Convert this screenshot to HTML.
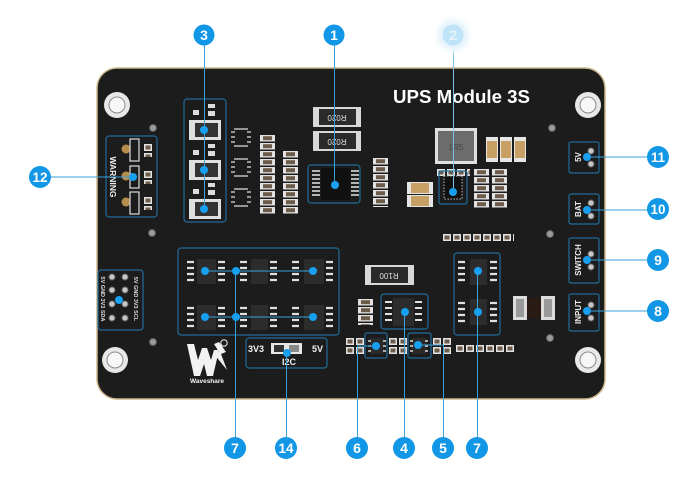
<!DOCTYPE html>
<html><head><meta charset="utf-8">
<style>
html,body{margin:0;padding:0;background:#fff;width:700px;height:480px;overflow:hidden}
svg{display:block}
</style></head>
<body>
<svg width="700" height="480" viewBox="0 0 700 480" xmlns="http://www.w3.org/2000/svg" font-family="'Liberation Sans', sans-serif">
<defs>
<pattern id="res" x="0" y="0" width="17" height="8" patternUnits="userSpaceOnUse">
<rect x="1" y="1" width="15" height="6.5" fill="#e2e2e2"/><rect x="4" y="2.2" width="9" height="4" fill="#6e5c4a"/>
</pattern>
<pattern id="resh" x="0" y="0" width="10" height="9" patternUnits="userSpaceOnUse">
<rect x="1" y="1" width="8" height="7" fill="#e2e2e2"/><rect x="2.5" y="2.5" width="5" height="4" fill="#6e5c4a"/>
</pattern>
<linearGradient id="fade" x1="0" x2="1" y1="0" y2="0">
<stop offset="0" stop-color="#3aa0d8" stop-opacity="0"/><stop offset="0.6" stop-color="#3aa0d8" stop-opacity="0.6"/><stop offset="1" stop-color="#3aa0d8"/>
</linearGradient>
<radialGradient id="glow"><stop offset="0" stop-color="#d6eefb"/><stop offset="0.6" stop-color="#e8f5fc"/><stop offset="1" stop-color="#ffffff" stop-opacity="0"/></radialGradient>
</defs>

<!-- board -->
<rect x="97" y="68" width="508" height="331" rx="20" fill="#1c1c1c" stroke="#cdb98c" stroke-width="1.5"/>

<!-- mounting holes -->
<g>
<circle cx="117" cy="105" r="13" fill="#e8e8e8"/><circle cx="117" cy="105" r="8" fill="#f7f7f7" stroke="#8a8a8a"/>
<circle cx="588" cy="105" r="13" fill="#e8e8e8"/><circle cx="588" cy="105" r="8" fill="#f7f7f7" stroke="#8a8a8a"/>
<circle cx="115" cy="360" r="13" fill="#e8e8e8"/><circle cx="115" cy="360" r="8" fill="#f7f7f7" stroke="#8a8a8a"/>
<circle cx="588" cy="360" r="13" fill="#e8e8e8"/><circle cx="588" cy="360" r="8" fill="#f7f7f7" stroke="#8a8a8a"/>
</g>

<!-- vias -->
<g fill="#9a9a9a" stroke="#5a5a5a">
<circle cx="153" cy="128" r="3.5"/><circle cx="152" cy="233" r="3.5"/><circle cx="153" cy="342" r="3.5"/>
<circle cx="552" cy="128" r="3.5"/><circle cx="550" cy="234" r="3.5"/><circle cx="550" cy="338" r="3.5"/>
</g>

<!-- title -->
<text x="393" y="103" font-size="18" font-weight="bold" fill="#fff" textLength="137" lengthAdjust="spacingAndGlyphs">UPS Module 3S</text>

<!-- R020 resistors -->
<g>
<rect x="313" y="107" width="48" height="20" fill="#d8d8d8"/><rect x="319" y="109" width="37" height="16" fill="#2a2a2a"/>
<text x="337" y="121" font-size="8" fill="#ddd" text-anchor="middle" transform="rotate(180 337 118)">R020</text>
<rect x="313" y="131" width="48" height="20" fill="#d8d8d8"/><rect x="319" y="133" width="37" height="16" fill="#2a2a2a"/>
<text x="337" y="145" font-size="8" fill="#ddd" text-anchor="middle" transform="rotate(180 337 142)">R020</text>
</g>

<!-- inductor -->
<rect x="435" y="128" width="42" height="36" fill="#e0e0e0"/>
<rect x="438" y="131" width="36" height="30" fill="#6c6c6c"/>
<text x="456" y="150" font-size="8" fill="#444" text-anchor="middle">1R5</text>
<!-- tan caps -->
<g>
<rect x="486" y="137" width="12" height="25" fill="#e6e6e6"/><rect x="487" y="141" width="10" height="17" fill="#c9a063"/>
<rect x="500" y="137" width="12" height="25" fill="#e6e6e6"/><rect x="501" y="141" width="10" height="17" fill="#c9a063"/>
<rect x="514" y="137" width="12" height="25" fill="#e6e6e6"/><rect x="515" y="141" width="10" height="17" fill="#c9a063"/>
<rect x="407" y="182" width="26" height="12" fill="#e6e6e6"/><rect x="411" y="183" width="18" height="10" fill="#c9a063"/>
<rect x="407" y="195" width="26" height="12" fill="#e6e6e6"/><rect x="411" y="196" width="18" height="10" fill="#c9a063"/>
</g>

<!-- resistor columns -->
<g transform="translate(259,134)"><rect width="17" height="80" fill="url(#res)"/></g>
<g transform="translate(282,150)"><rect width="17" height="64" fill="url(#res)"/></g>
<g transform="translate(372,157)"><rect width="17" height="50" fill="url(#res)"/></g>
<g transform="translate(473,168)"><rect width="17" height="40" fill="url(#res)"/></g>
<g transform="translate(491,168)"><rect width="17" height="40" fill="url(#res)"/></g>
<g transform="translate(436,168)"><rect width="34" height="9" fill="url(#resh)"/></g>

<!-- SOT outlines -->
<g fill="none" stroke="#e0e0e0" stroke-width="1.3">
<path d="M234 129 h14 M234 146 h14 M231 132 h4 M231 137 h4 M231 142 h4 M247 132 h4 M247 137 h4 M247 142 h4"/>
<path d="M234 159 h14 M234 176 h14 M231 162 h4 M231 167 h4 M231 172 h4 M247 162 h4 M247 167 h4 M247 172 h4"/>
<path d="M234 189 h14 M234 206 h14 M231 192 h4 M231 197 h4 M231 202 h4 M247 192 h4 M247 197 h4 M247 202 h4"/>
</g>

<!-- box 3 components -->
<g>
<rect x="189" y="120" width="32" height="20" fill="#e0e0e0"/><rect x="195" y="123" width="23" height="14" fill="#333"/>
<rect x="189" y="160" width="32" height="20" fill="#e0e0e0"/><rect x="195" y="163" width="23" height="14" fill="#333"/>
<rect x="189" y="199" width="32" height="20" fill="#e0e0e0"/><rect x="195" y="202" width="23" height="14" fill="#333"/>
<g fill="#dcdcdc">
<rect x="193" y="110" width="6" height="5"/><rect x="208" y="104" width="7" height="4"/><rect x="208" y="111" width="7" height="5"/>
<rect x="193" y="150" width="6" height="5"/><rect x="208" y="144" width="7" height="4"/><rect x="208" y="151" width="7" height="5"/>
<rect x="193" y="189" width="6" height="5"/><rect x="208" y="183" width="7" height="4"/><rect x="208" y="190" width="7" height="5"/>
</g>
</g>

<!-- chip in box 1 -->
<rect x="321" y="168" width="29" height="32" fill="#111"/>
<g stroke="#e6e6e6" stroke-width="1.5">
<path d="M312 171h8M312 175h8M312 179h8M312 183h8M312 187h8M312 191h8M312 195h8"/>
<path d="M351 171h8M351 175h8M351 179h8M351 183h8M351 187h8M351 191h8M351 195h8"/>
</g>
<!-- chip in box 2 -->
<rect x="444" y="176" width="18" height="23" fill="#111" stroke="#bbb" stroke-dasharray="1.5 1.5"/>

<!-- WARNING box -->
<g>
<circle cx="126" cy="149" r="4.5" fill="#b58e4e"/><circle cx="126" cy="176" r="4.5" fill="#b58e4e"/><circle cx="126" cy="202" r="4.5" fill="#b58e4e"/>
<rect x="130" y="139" width="9" height="22" fill="none" stroke="#ddd" stroke-width="1.2"/>
<rect x="130" y="166" width="9" height="22" fill="none" stroke="#ddd" stroke-width="1.2"/>
<rect x="130" y="192" width="9" height="22" fill="none" stroke="#ddd" stroke-width="1.2"/>
<g transform="translate(143,143)"><rect width="10" height="14" fill="url(#resh)"/></g>
<g transform="translate(143,170)"><rect width="10" height="14" fill="url(#resh)"/></g>
<g transform="translate(143,196)"><rect width="10" height="14" fill="url(#resh)"/></g>
<text x="113" y="177" font-size="8.5" font-weight="bold" fill="#eee" text-anchor="middle" transform="rotate(90 113 177)" dy="3">WARNING</text>
</g>

<!-- header left -->
<g>
<g fill="#c8c8c8" stroke="#666">
<circle cx="112" cy="277" r="3"/><circle cx="112" cy="290" r="3"/><circle cx="112" cy="304" r="3"/><circle cx="112" cy="318" r="3"/>
<circle cx="125" cy="277" r="3"/><circle cx="125" cy="290" r="3"/><circle cx="125" cy="304" r="3"/><circle cx="125" cy="318" r="3"/>
</g>
<text x="103" y="299" font-size="5.5" font-weight="bold" fill="#ddd" text-anchor="middle" transform="rotate(90 103 299)" dy="2">5V GND 3V3 SDA</text>
<text x="136" y="299" font-size="5.5" font-weight="bold" fill="#ddd" text-anchor="middle" transform="rotate(90 136 299)" dy="2">5V GND 3V3 SCL</text>
</g>

<!-- 7L chips -->
<g>
<g fill="#2c2c2c">
<rect x="197" y="259" width="19" height="25"/><rect x="251" y="259" width="17" height="25"/><rect x="304" y="259" width="20" height="25"/>
<rect x="197" y="305" width="19" height="25"/><rect x="251" y="305" width="17" height="25"/><rect x="304" y="305" width="20" height="25"/>
</g>
<g stroke="#e0e0e0" stroke-width="2.2">
<path d="M187 262h7M187 268h7M187 274h7M187 280h7M218 262h7M218 268h7M218 274h7M218 280h7"/>
<path d="M240 262h7M240 268h7M240 274h7M240 280h7M270 262h7M270 268h7M270 274h7M270 280h7"/>
<path d="M292 262h7M292 268h7M292 274h7M292 280h7M326 262h7M326 268h7M326 274h7M326 280h7"/>
<path d="M187 308h7M187 314h7M187 320h7M187 326h7M218 308h7M218 314h7M218 320h7M218 326h7"/>
<path d="M240 308h7M240 314h7M240 320h7M240 326h7M270 308h7M270 314h7M270 320h7M270 326h7"/>
<path d="M292 308h7M292 314h7M292 320h7M292 326h7M326 308h7M326 314h7M326 320h7M326 326h7"/>
</g>
</g>

<!-- Waveshare logo -->
<g fill="#f2f2f2">
<polygon points="187,344 194,344 198,360 202,348 207,348 211,360 214,350 219,350 213,376 207,376 204,364 200,376 194,376"/>
<polygon points="219,342 226,352 221,354 227,370 214,354 219,352 214,344"/>
<circle cx="224" cy="343" r="3.2" fill="none" stroke="#f2f2f2" stroke-width="1"/>
<text x="207" y="383" font-size="6.5" font-weight="bold" text-anchor="middle">Waveshare</text>
</g>

<!-- I2C switch -->
<g>
<text x="248" y="352" font-size="9" font-weight="bold" fill="#f0f0f0">3V3</text>
<rect x="271" y="343" width="31" height="11" fill="#e6e6e6"/><rect x="274" y="345" width="10" height="7" fill="#333"/><rect x="289" y="345" width="10" height="7" fill="#888"/>
<text x="312" y="352" font-size="9" font-weight="bold" fill="#f0f0f0">5V</text>
<text x="289" y="365" font-size="9" font-weight="bold" fill="#f0f0f0" text-anchor="middle">I2C</text>
</g>

<!-- R100 -->
<rect x="365" y="265" width="49" height="20" fill="#d8d8d8"/><rect x="371" y="267" width="37" height="16" fill="#2a2a2a"/>
<text x="389" y="279" font-size="8" fill="#ddd" text-anchor="middle" transform="rotate(180 389 276)">R100</text>

<!-- black comp with pads -->
<rect x="513" y="296" width="14" height="24" fill="#dcdcdc"/><rect x="516" y="299" width="8" height="18" fill="#999"/>
<rect x="527" y="298" width="14" height="20" fill="#2a1a14"/>
<rect x="541" y="296" width="14" height="24" fill="#dcdcdc"/><rect x="544" y="299" width="8" height="18" fill="#999"/>

<!-- right area small parts -->
<g transform="translate(442,233)"><rect width="72" height="9" fill="url(#resh)"/></g>
<g transform="translate(455,344)"><rect width="60" height="9" fill="url(#resh)"/></g>
<g transform="translate(357,298)"><rect width="17" height="27" fill="url(#res)"/></g>
<g transform="translate(345,337)"><rect width="20" height="18" fill="url(#resh)"/></g>
<g transform="translate(388,337)"><rect width="20" height="18" fill="url(#resh)"/></g>
<g transform="translate(432,337)"><rect width="20" height="18" fill="url(#resh)"/></g>

<!-- 7R chips -->
<g fill="#2c2c2c"><rect x="470" y="259" width="17" height="26"/><rect x="470" y="299" width="17" height="26"/></g>
<g stroke="#e0e0e0" stroke-width="2.2">
<path d="M458 262h7M458 268h7M458 274h7M458 280h7M490 262h7M490 268h7M490 274h7M490 280h7"/>
<path d="M458 303h7M458 309h7M458 315h7M458 321h7M490 303h7M490 309h7M490 315h7M490 321h7"/>
</g>
<!-- box 4 chip -->
<rect x="393" y="298" width="21" height="28" fill="#2c2c2c"/>
<g stroke="#e0e0e0" stroke-width="2"><path d="M385 302h7M385 308h7M385 314h7M385 320h7M415 302h7M415 308h7M415 314h7M415 320h7"/></g>
<!-- box 6 / 5 chips -->
<rect x="370" y="338" width="14" height="16" fill="#2a2a2a"/>
<g stroke="#ddd" stroke-width="1.5"><path d="M368 341h3M368 346h3M368 351h3M383 341h3M383 346h3M383 351h3"/></g>
<rect x="412" y="338" width="14" height="16" fill="#2a2a2a"/>
<g stroke="#ddd" stroke-width="1.5"><path d="M410 341h3M410 346h3M410 351h3M425 341h3M425 346h3M425 351h3"/></g>

<!-- right connectors -->
<g font-size="8" font-weight="bold" fill="#eee" text-anchor="middle">
<text x="578" y="157" transform="rotate(-90 578 157)" dy="3">5V</text>
<text x="578" y="209" transform="rotate(-90 578 209)" dy="3">BAT</text>
<text x="578" y="260" transform="rotate(-90 578 260)" dy="3">SWITCH</text>
<text x="578" y="312" transform="rotate(-90 578 312)" dy="3">INPUT</text>
</g>
<g fill="#c8c8c8" stroke="#666">
<circle cx="591" cy="151" r="3"/><circle cx="591" cy="164" r="3"/>
<circle cx="591" cy="203" r="3"/><circle cx="591" cy="216" r="3"/>
<circle cx="591" cy="254" r="3"/><circle cx="591" cy="267" r="3"/>
<circle cx="591" cy="305" r="3"/><circle cx="591" cy="318" r="3"/>
</g>

<!-- highlight boxes -->
<g fill="none" stroke="#1f6d9a" stroke-width="1.2">
<rect x="184" y="99" width="42" height="123" rx="3"/>
<rect x="308" y="165" width="52" height="38" rx="3"/>
<rect x="439" y="171" width="28" height="33" rx="2"/>
<rect x="106" y="136" width="51" height="81" rx="3"/>
<rect x="98" y="270" width="45" height="60" rx="3"/>
<rect x="178" y="248" width="161" height="87" rx="3"/>
<rect x="246" y="338" width="81" height="30" rx="3"/>
<rect x="381" y="294" width="47" height="35" rx="3"/>
<rect x="365" y="333" width="22" height="25" rx="2"/>
<rect x="408" y="333" width="23" height="25" rx="2"/>
<rect x="454" y="253" width="46" height="82" rx="3"/>
<rect x="569" y="142" width="30" height="31" rx="2"/>
<rect x="569" y="194" width="30" height="30" rx="2"/>
<rect x="569" y="238" width="30" height="45" rx="2"/>
<rect x="569" y="294" width="30" height="37" rx="2"/>
</g>

<!-- leader lines -->
<g stroke="#3aa0d8" stroke-width="1" fill="none">
<path d="M204.5 45V209"/>
<path d="M334.5 45V185"/>
<path d="M453.5 45V192" stroke="#7cc2e8"/>
<path d="M587 157H648"/>
<path d="M587 210H648"/>
<path d="M587 260H648"/>
<path d="M587 311H648"/>
<path d="M51 177H133"/>
<path d="M205 271H313M205 317H313M235.5 271V437"/>
<path d="M286.5 353V437"/>
<path d="M357.5 346V437M357 346H376"/>
<path d="M404.5 312V437"/>
<path d="M418 345H443.5V437"/>
<path d="M477.5 271V437"/>
</g>
<path d="M15 299.5H119" stroke="url(#fade)" stroke-width="1"/>

<!-- dots -->
<g fill="#18a0f0">
<circle cx="204" cy="130" r="4"/><circle cx="204" cy="170" r="4"/><circle cx="204" cy="209" r="4"/>
<circle cx="335" cy="185" r="4"/>
<circle cx="453" cy="192" r="4"/>
<circle cx="587" cy="157" r="4"/><circle cx="587" cy="210" r="4"/><circle cx="587" cy="260" r="4"/><circle cx="587" cy="311" r="4"/>
<circle cx="133" cy="177" r="4"/>
<circle cx="119" cy="300" r="4"/>
<circle cx="205" cy="271" r="4"/><circle cx="236" cy="271" r="4"/><circle cx="313" cy="271" r="4"/>
<circle cx="205" cy="317" r="4"/><circle cx="236" cy="317" r="4"/><circle cx="313" cy="317" r="4"/>
<circle cx="287" cy="353" r="4"/>
<circle cx="376" cy="346" r="4"/>
<circle cx="405" cy="312" r="4"/>
<circle cx="418" cy="345" r="4"/>
<circle cx="478" cy="271" r="4"/><circle cx="478" cy="312" r="4"/>
</g>

<!-- callout circles -->
<ellipse cx="453" cy="35" rx="22" ry="22" fill="url(#glow)"/>
<g fill="#1296e6">
<circle cx="204" cy="35" r="10.5"/>
<circle cx="334" cy="35" r="10.5"/>
<circle cx="658" cy="157" r="11"/>
<circle cx="658" cy="209" r="11"/>
<circle cx="658" cy="260" r="11"/>
<circle cx="658" cy="311" r="11"/>
<circle cx="40" cy="177" r="11"/>
<circle cx="235" cy="448" r="11"/>
<circle cx="286" cy="448" r="11"/>
<circle cx="357" cy="448" r="11"/>
<circle cx="404" cy="448" r="11"/>
<circle cx="443" cy="448" r="11"/>
<circle cx="477" cy="448" r="11"/>
</g>
<circle cx="453" cy="35" r="10.5" fill="#bfe3f7"/>
<g fill="#fff" font-size="14" font-weight="bold" text-anchor="middle">
<text x="204" y="40">3</text>
<text x="334" y="40">1</text>
<text x="453" y="40" fill="#e6f4fc">2</text>
<text x="658" y="162" textLength="14" lengthAdjust="spacingAndGlyphs">11</text>
<text x="658" y="214" textLength="15" lengthAdjust="spacingAndGlyphs">10</text>
<text x="658" y="265">9</text>
<text x="658" y="316">8</text>
<text x="40" y="182" textLength="15" lengthAdjust="spacingAndGlyphs">12</text>
<text x="235" y="453">7</text>
<text x="286" y="453" textLength="15" lengthAdjust="spacingAndGlyphs">14</text>
<text x="357" y="453">6</text>
<text x="404" y="453">4</text>
<text x="443" y="453">5</text>
<text x="477" y="453">7</text>
</g>
</svg>
</body></html>
